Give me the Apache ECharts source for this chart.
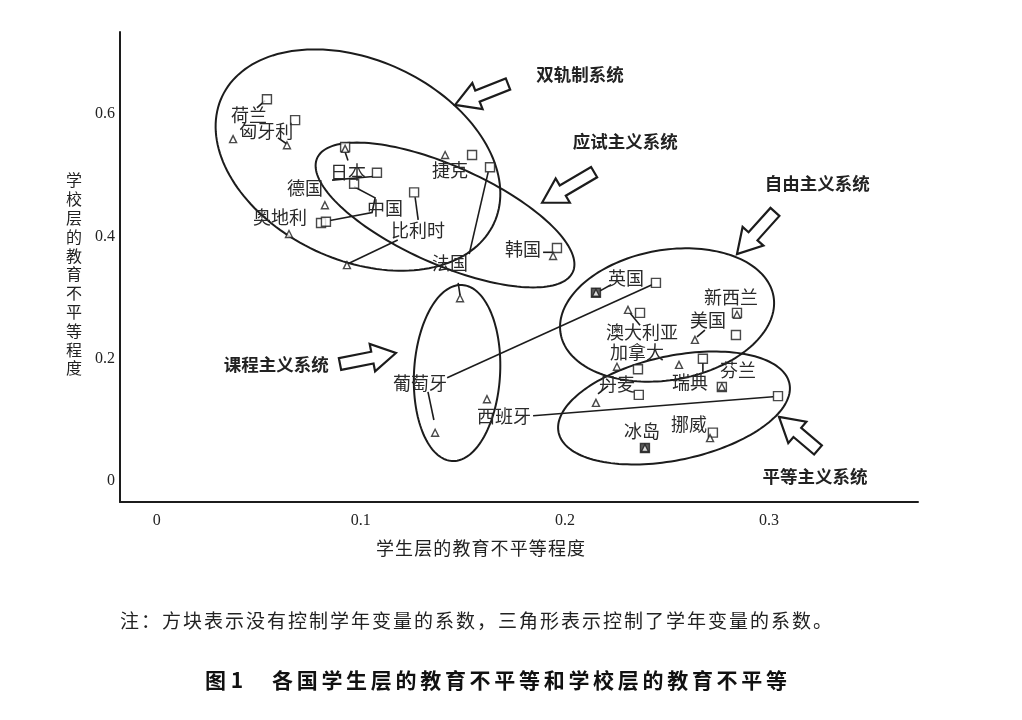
<!DOCTYPE html>
<html><head><meta charset="utf-8">
<script src="https://cdn.jsdelivr.net/npm/echarts@6/dist/echarts.min.js"></script>
<style>html,body{margin:0;padding:0;background:#fff}#c{width:1022px;height:720px}</style>
</head><body><div id="c"></div>
<script>
// ---- tick labels ----
const xTicks = [0, 0.1, 0.2, 0.3];
const yTicks = [0, 0.2, 0.4, 0.6];

// ---- squares: coefficient without school-year control [name, x, y] ----
const squares = [
  ['荷兰', 0.0540, 0.624], ['匈牙利', 0.0678, 0.590], ['日本', 0.0923, 0.546],
  ['日本b', 0.1079, 0.504], ['中国', 0.0967, 0.486], ['奥地利', 0.0805, 0.422],
  ['德国', 0.0829, 0.424], ['捷克', 0.1545, 0.533], ['法国', 0.1633, 0.513],
  ['比利时', 0.1261, 0.472], ['韩国', 0.1961, 0.381], ['英国', 0.2152, 0.308],
  ['葡萄牙', 0.2446, 0.324], ['澳大利亚', 0.2368, 0.275], ['新西兰', 0.2843, 0.275],
  ['美国', 0.2838, 0.239], ['加拿大', 0.2358, 0.183], ['瑞典', 0.2676, 0.200],
  ['芬兰', 0.2769, 0.154], ['丹麦', 0.2362, 0.141], ['西班牙', 0.3044, 0.139],
  ['挪威', 0.2725, 0.0794], ['冰岛', 0.2392, 0.0542]
];
// ---- triangles: coefficient with school-year control [name, x, y] ----
const triangles = [
  ['荷兰', 0.0374, 0.559], ['匈牙利', 0.0638, 0.549], ['日本', 0.0923, 0.543],
  ['德国', 0.0824, 0.451], ['奥地利', 0.0648, 0.404], ['比利时', 0.0932, 0.353],
  ['捷克', 0.1413, 0.533], ['法国', 0.1486, 0.299], ['韩国', 0.1942, 0.368],
  ['英国', 0.2152, 0.308], ['澳大利亚', 0.2309, 0.280], ['新西兰', 0.2843, 0.272],
  ['美国', 0.2637, 0.231], ['加拿大', 0.2255, 0.187], ['瑞典', 0.2559, 0.190],
  ['芬兰', 0.2769, 0.154], ['丹麦', 0.2152, 0.128], ['西班牙', 0.1618, 0.134],
  ['葡萄牙', 0.1364, 0.0791], ['挪威', 0.2711, 0.0703], ['冰岛', 0.2392, 0.0542]
];
const filledMarks = ['英国', '冰岛'];

// ---- country labels [text, x, y] ----
const countryLabels = [
  ['荷兰', 0.0452, 0.598], ['匈牙利', 0.0536, 0.572], ['日本', 0.0937, 0.505],
  ['德国', 0.0727, 0.479], ['中国', 0.1119, 0.446], ['奥地利', 0.0604, 0.432],
  ['比利时', 0.1280, 0.410], ['捷克', 0.1437, 0.508], ['法国', 0.1437, 0.356],
  ['韩国', 0.1795, 0.379], ['英国', 0.2299, 0.332], ['新西兰', 0.2814, 0.301],
  ['美国', 0.2701, 0.263], ['澳大利亚', 0.2378, 0.244], ['加拿大', 0.2353, 0.211],
  ['丹麦', 0.2255, 0.159], ['瑞典', 0.2613, 0.162], ['芬兰', 0.2848, 0.181],
  ['冰岛', 0.2378, 0.081], ['挪威', 0.2608, 0.093], ['葡萄牙', 0.1290, 0.160],
  ['西班牙', 0.1702, 0.107]
];

// ---- leader lines from labels to marks (data coords) ----
const connectors = [
  [[0.0491, 0.610], [0.0531, 0.622]],
  [[0.0594, 0.561], [0.0638, 0.551]],
  [[0.0923, 0.538], [0.0937, 0.524]],
  [[0.0859, 0.492], [0.1060, 0.498]],
  [[0.0967, 0.481], [0.1070, 0.463], [0.1055, 0.439], [0.0849, 0.426]],
  [[0.1266, 0.464], [0.1281, 0.427]],
  [[0.1181, 0.394], [0.0942, 0.356]],
  [[0.1624, 0.505], [0.1531, 0.371]],
  [[0.1477, 0.324], [0.1486, 0.304]],
  [[0.1893, 0.374], [0.1937, 0.374]],
  [[0.1423, 0.169], [0.2427, 0.321]],
  [[0.1329, 0.146], [0.1358, 0.100]],
  [[0.1844, 0.107], [0.3020, 0.138]],
  [[0.2226, 0.321], [0.2172, 0.311]],
  [[0.2319, 0.275], [0.2368, 0.255]],
  [[0.2647, 0.236], [0.2686, 0.247]],
  [[0.2162, 0.1425], [0.2211, 0.1556]],
  [[0.2676, 0.193], [0.2676, 0.178]]
];

// ---- system ellipses: [name, majorEnd1, majorEnd2, minorEnd] in data coords ----
const systemEllipses = [
  ['双轨制系统', [0.0320, 0.6284], [0.1652, 0.4212], [0.1194, 0.6729]],
  ['应试主义系统', [0.0786, 0.5279], [0.2039, 0.3420], [0.1510, 0.5082]],
  ['课程主义系统', [0.1496, 0.3206], [0.1447, 0.0330], [0.1682, 0.1729]],
  ['自由主义系统', [0.1979, 0.2409], [0.3022, 0.3022], [0.2445, 0.3761]],
  ['平等主义系统', [0.1969, 0.0796], [0.3100, 0.1596], [0.2482, 0.2028]]
];
// ---- system arrows: [name, tip, tail] ----
const systemArrows = [
  ['双轨制系统', [0.1462, 0.615], [0.1721, 0.649]],
  ['应试主义系统', [0.1888, 0.455], [0.2143, 0.505]],
  ['自由主义系统', [0.2843, 0.371], [0.3029, 0.440]],
  ['课程主义系统', [0.1172, 0.2095], [0.0898, 0.1915]],
  ['平等主义系统', [0.3049, 0.105], [0.3240, 0.0510]]
];
// ---- system labels: [text, x, y] ----
const systemLabels = [
  ['双轨制系统', 0.2074, 0.664], ['应试主义系统', 0.2295, 0.555],
  ['自由主义系统', 0.3236, 0.487], ['课程主义系统', 0.0585, 0.1915],
  ['平等主义系统', 0.3225, 0.0085]
];

const CJK = '"Noto Sans CJK SC"';
const INK = '#1c1c1c';

const chart = echarts.init(document.getElementById('c'), null, {renderer: 'canvas'});

function renderEllipse(params, api) {
  const e = systemEllipses[params.dataIndex];
  const p1 = api.coord(e[1]), p2 = api.coord(e[2]), pm = api.coord(e[3]);
  const cx = (p1[0] + p2[0]) / 2, cy = (p1[1] + p2[1]) / 2;
  const a = Math.hypot(p2[0] - p1[0], p2[1] - p1[1]) / 2;
  const ux = (p2[0] - p1[0]) / (2 * a), uy = (p2[1] - p1[1]) / (2 * a);
  const nx = -uy, ny = ux;
  const b = Math.abs((pm[0] - cx) * nx + (pm[1] - cy) * ny);
  const pts = [];
  for (let k = 0; k < 160; k++) {
    const t = k / 160 * 2 * Math.PI;
    const ca = Math.cos(t) * a, sb = Math.sin(t) * b;
    pts.push([cx + ca * ux + sb * nx, cy + ca * uy + sb * ny]);
  }
  return {type: 'polygon', shape: {points: pts}, style: {fill: 'none', stroke: INK, lineWidth: 2}};
}

function renderArrow(params, api) {
  const ar = systemArrows[params.dataIndex];
  const tip = api.coord(ar[1]), tail = api.coord(ar[2]);
  const L = Math.hypot(tip[0] - tail[0], tip[1] - tail[1]);
  const ux = (tip[0] - tail[0]) / L, uy = (tip[1] - tail[1]) / L;
  const nx = -uy, ny = ux;
  const hl = 24, hw = 14, sw = 6;
  const neck = [tip[0] - ux * hl, tip[1] - uy * hl];
  const P = (p, s) => [p[0] + nx * s, p[1] + ny * s];
  const pts = [tip, P(neck, hw), P(neck, sw), P(tail, sw), P(tail, -sw), P(neck, -sw), P(neck, -hw)];
  return {type: 'polygon', shape: {points: pts}, style: {fill: '#fff', stroke: INK, lineWidth: 2.2, lineJoin: 'miter'}};
}

function renderConnector(params, api) {
  const pts = connectors[params.dataIndex].map(p => api.coord(p));
  return {type: 'polyline', shape: {points: pts}, style: {fill: 'none', stroke: INK, lineWidth: 1.6}};
}

function renderText(list, font, color) {
  return function (params, api) {
    const it = list[params.dataIndex];
    const p = api.coord([it[1], it[2]]);
    return {type: 'text', x: p[0], y: p[1],
      style: {text: it[0], font: font, fill: color, align: 'center', verticalAlign: 'middle'}};
  };
}

// spread characters along a line with a fixed pitch (typeset look)
function spread(str, x0, y, pitch, font, color) {
  return Array.from(str).map((ch, i) => ({
    type: 'text', x: x0 + i * pitch, y: y,
    style: {text: ch, font: font, fill: color, align: 'left', verticalAlign: 'middle'}
  }));
}

const option = {
  animation: false,
  backgroundColor: '#fff',
  grid: {left: 120, right: 104, top: 32, bottom: 218, containLabel: false, outerBoundsMode: 'none'},
  xAxis: {
    type: 'value', min: -0.018, max: 0.373,
    axisLine: {show: true, onZero: false, lineStyle: {color: INK, width: 2}},
    axisTick: {show: false}, splitLine: {show: false},
    axisLabel: {customValues: xTicks, formatter: v => String(v), margin: 11,
      fontFamily: '"Liberation Serif"', fontSize: 16, color: '#222'}
  },
  yAxis: {
    type: 'value', min: -0.034, max: 0.734,
    axisLine: {show: true, onZero: false, lineStyle: {color: INK, width: 2}},
    axisTick: {show: false}, splitLine: {show: false},
    axisLabel: {customValues: yTicks, formatter: v => String(v), margin: 5,
      fontFamily: '"Liberation Serif"', fontSize: 16, color: '#222'}
  },
  series: [
    {type: 'custom', renderItem: renderEllipse, data: systemEllipses.map(e => e[1]), silent: true, clip: false, z: 1},
    {type: 'custom', renderItem: renderArrow, data: systemArrows.map(a => a[1]), silent: true, clip: false, z: 1},
    {type: 'custom', renderItem: renderConnector, data: connectors.map(c => c[0]), silent: true, clip: false, z: 2},
    {type: 'scatter', symbol: 'rect', symbolSize: 9, z: 3, silent: true,
      data: squares.map(s => ({value: [s[1], s[2]], itemStyle: {color: filledMarks.includes(s[0]) ? '#333' : '#fff'}})),
      itemStyle: {borderColor: INK, borderWidth: 1.4}},
    {type: 'scatter', symbol: 'triangle', symbolSize: 7, z: 4, silent: true,
      data: triangles.map(s => ({value: [s[1], s[2]]})),
      itemStyle: {color: '#fff', borderColor: INK, borderWidth: 1.4}},
    {type: 'custom', renderItem: renderText(countryLabels, '18px ' + CJK, '#2a2a2a'),
      data: countryLabels.map(l => [l[1], l[2]]), silent: true, clip: false, z: 5},
    {type: 'custom', renderItem: renderText(systemLabels, 'bold 17.5px ' + CJK, '#222'),
      data: systemLabels.map(l => [l[1], l[2]]), silent: true, clip: false, z: 5}
  ],
  graphic: [].concat(
    [{type: 'text', left: 66, top: 171, style: {text: '学\n校\n层\n的\n教\n育\n不\n平\n等\n程\n度', font: '16px ' + CJK, fill: '#222', lineHeight: 18.8, align: 'center'}}],
    spread('学生层的教育不平等程度', 376, 548, 19.1, '18px ' + CJK, '#222'),
    spread('注：方块表示没有控制学年变量的系数，三角形表示控制了学年变量的系数。', 120, 621, 21.0, '19px ' + CJK, '#222'),
    [{type: 'text', x: 205, y: 680, style: {text: '图 1', font: 'bold 21px ' + CJK, fill: '#111', align: 'left', verticalAlign: 'middle'}}],
    spread('各国学生层的教育不平等和学校层的教育不平等', 272, 680, 24.7, 'bold 21px ' + CJK, '#111')
  )
};
chart.setOption(option);
</script>
</body></html>
